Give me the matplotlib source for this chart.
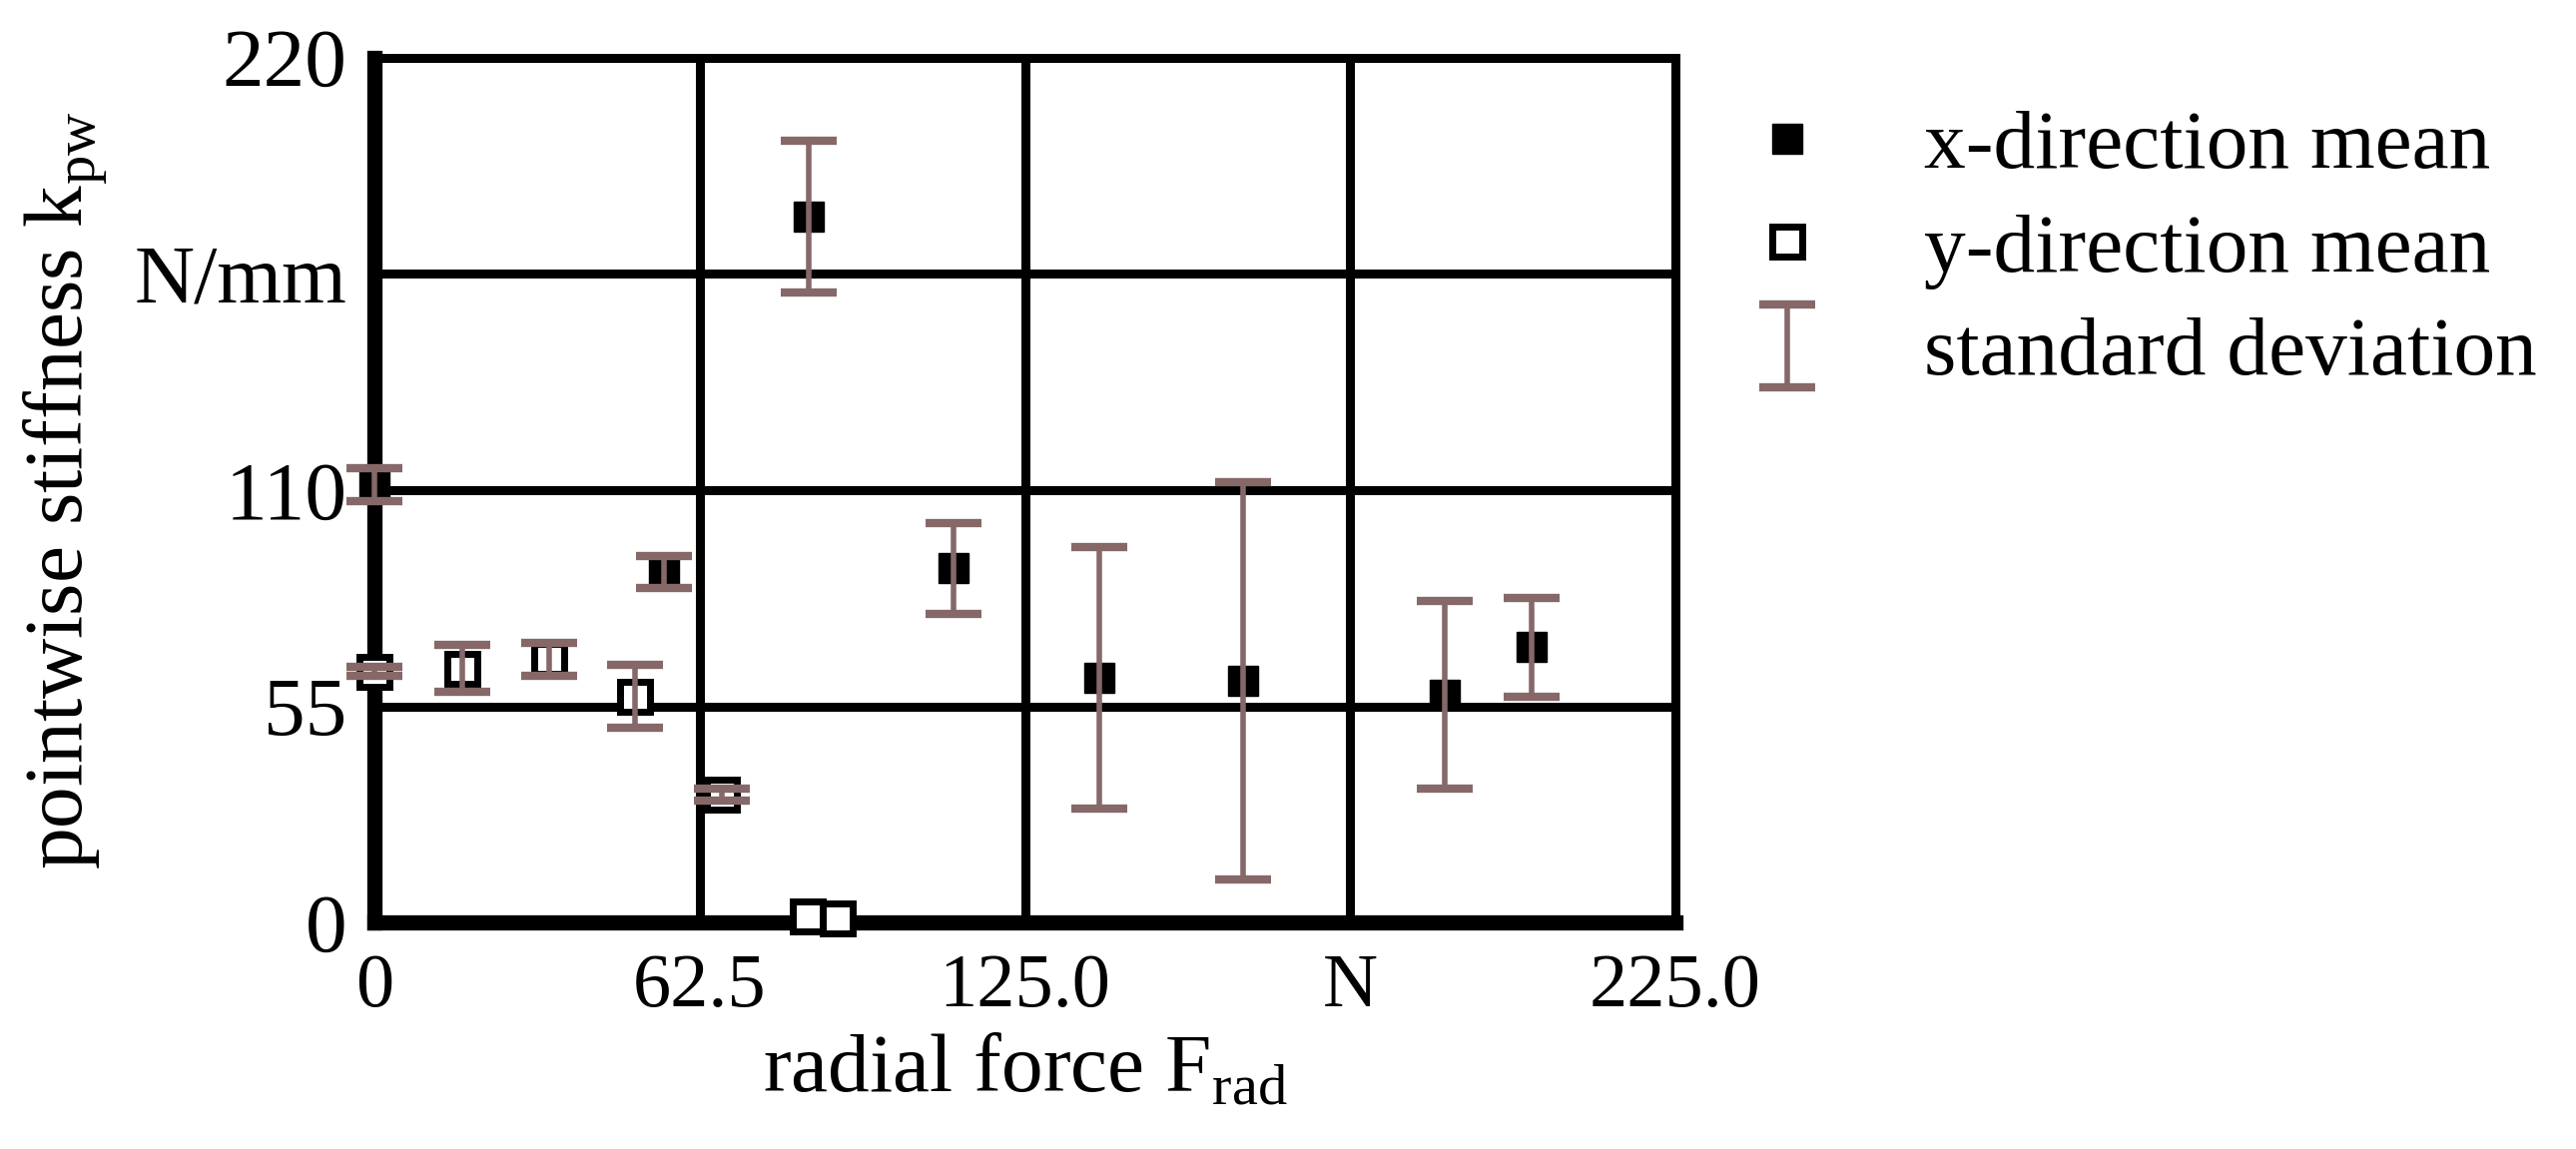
import matplotlib.pyplot as plt
from matplotlib.lines import Line2D

plt.rcParams['font.family'] = 'Liberation Serif'
plt.rcParams['mathtext.fontset'] = 'custom'
plt.rcParams['mathtext.rm'] = 'Liberation Serif'

# x-direction means (filled squares)
force_x = [0, 55.6, 83.5, 111.2, 139.2, 166.9, 205.6, 222.3]
mean_x = [111.4, 89.2, 179.5, 90.1, 62.3, 61.5, 58.0, 70.0]
std_x = [4.2, 4.0, 19.3, 11.6, 33.2, 50.5, 23.9, 12.5]

# y-direction means (open squares)
force_y = [0, 16.8, 33.5, 50.0, 66.7, 83.3, 89.1]
mean_y = [63.9, 64.6, 67.0, 57.5, 32.6, 1.5, 1.0]
std_y = [1.2, 6.0, 4.2, 8.0, 1.5, 0, 0]

x_ticks = [0, 62.5, 125, 187.5, 250]
x_labels = ['0', '62.5', '125.0', 'N', '225.0']
y_ticks = [0, 55, 110, 165, 220]
y_labels = ['0', '55', '110', 'N/mm', '220']

bar_color = '#866868'
fs = 60

fig = plt.figure(figsize=(25.8, 11.51), dpi=100)
ax = fig.add_axes([0.1454, 0.197, 0.505, 0.753])

ax.plot(force_x, mean_x, 's', color='black', ms=21, clip_on=False, zorder=3)
ax.plot(force_y, mean_y, 's', mfc='white', mec='black', mew=5, ms=21,
        clip_on=False, zorder=3)

# only points with a visible standard deviation get an error bar
eb_f, eb_m, eb_s = [], [], []
for f, m, s in list(zip(force_x, mean_x, std_x)) + list(zip(force_y, mean_y, std_y)):
    if s > 0:
        eb_f.append(f)
        eb_m.append(m)
        eb_s.append(s)
eb = ax.errorbar(eb_f, eb_m, yerr=eb_s, fmt='none', ecolor=bar_color,
                 elinewidth=4, capsize=20, capthick=6, zorder=4)
for art in list(eb.lines[1]) + list(eb.lines[2]):
    art.set_clip_on(False)

ax.set_xlim(0, 250)
ax.set_ylim(0, 220)
ax.set_xticks(x_ticks)
ax.set_xticklabels(x_labels)
ax.set_yticks(y_ticks)
ax.set_yticklabels(y_labels)
ax.tick_params(length=0)
ax.tick_params(axis='x', pad=22, labelsize=55)
ax.tick_params(axis='y', pad=20, labelsize=60)
ax.grid(True, color='black', lw=6.5)
ax.set_axisbelow(True)
for side in ['top', 'right']:
    ax.spines[side].set_linewidth(6.5)
for side in ['left', 'bottom']:
    ax.spines[side].set_linewidth(11)

ax.set_xlabel('radial force F$_\\mathrm{rad}$', fontsize=fs, labelpad=8)
ax.set_ylabel('pointwise stiffness k$_\\mathrm{pw}$', fontsize=fs, labelpad=18)

h1 = Line2D([], [], ls='none', marker='s', color='black', ms=21)
h2 = Line2D([], [], ls='none', marker='s', mfc='white', mec='black', mew=5, ms=21)
fig.legend([h1, h2, eb], ['x-direction mean', 'y-direction mean', 'standard deviation'],
           loc='upper left', bbox_to_anchor=(0.6775, 0.905), frameon=False,
           fontsize=fs, handlelength=1.0, handletextpad=1.15, labelspacing=0.33,
           borderpad=0, borderaxespad=0)

fig.savefig('out.png', dpi=100, facecolor='white')
